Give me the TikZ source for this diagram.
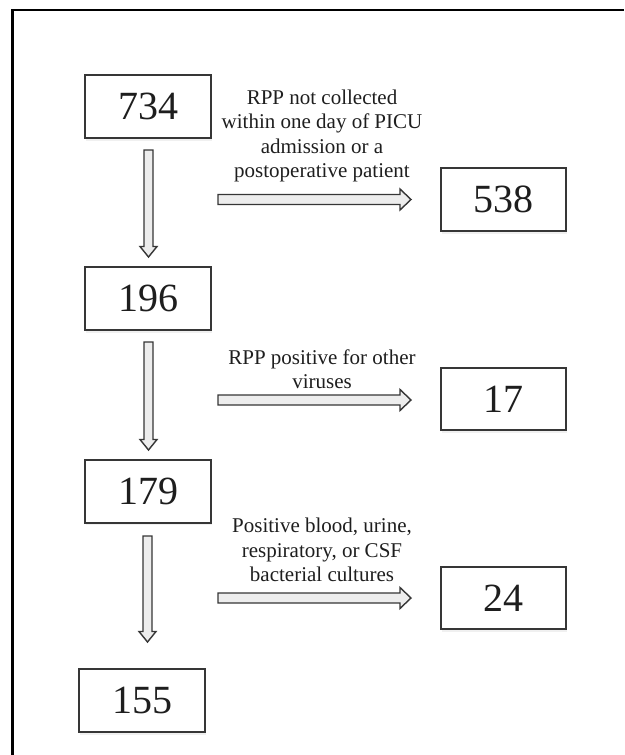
\documentclass[tikz,border=0pt]{standalone}
\usepackage{fontspec}
\setmainfont{Liberation Serif}
\usetikzlibrary{calc,shadows}
\definecolor{edge}{HTML}{363636}
\definecolor{afill}{HTML}{EDEDED}
\definecolor{ink}{HTML}{1E1E1E}
\tikzset{
  numbox/.style={draw=edge, line width=2pt, fill=white, minimum width=126pt, minimum height=63pt, inner sep=0pt,
    font=\fontsize{40}{44}\selectfont, text=ink,
    drop shadow={opacity=0.12, shadow xshift=1pt, shadow yshift=-2.5pt}},
  lbl/.style={align=center, font=\fontsize{21}{24.5}\selectfont, text=ink, inner sep=0pt},
  fat/.style={draw=edge, line width=1.4pt, fill=afill, line join=miter},
  frame/.style={line width=2.5pt, black}
}
\begin{document}
\begin{tikzpicture}[x=1pt,y=-1pt]
\useasboundingbox (0,0) rectangle (624,755);
% frame
\draw[frame] (12.5,755) -- (12.5,10) -- (624,10);
% boxes
\node[numbox] (b734) at (148,106.5) {734};
\node[numbox] (b196) at (148,298.5) {196};
\node[numbox] (b179) at (148,491) {179};
\node[numbox] (b155) at (142,700.5) {155};
\node[numbox, minimum width=125pt] (b538) at (503.5,199.5) {538};
\node[numbox, minimum width=125pt, minimum height=62pt] (b17) at (503.5,399) {17};
\node[numbox, minimum width=125pt, minimum height=62pt] (b24) at (503.5,598) {24};
% labels
\node[lbl] (t1) at (322,136) {RPP not collected\\within one day of PICU\\admission or a\\postoperative patient};
\node[lbl] (t2) at (322,369) {RPP positive for other\\viruses};
\node[lbl] (t3) at (322,550) {Positive blood, urine,\\respiratory, or CSF\\bacterial cultures};
% arrow coordinates
\coordinate (v1s) at (148.5,150);  \coordinate (v1e) at (148.5,257);
\coordinate (v2s) at (148.5,342);  \coordinate (v2e) at (148.5,450);
\coordinate (v3s) at (147.5,536);  \coordinate (v3e) at (147.5,642);
\coordinate (h1s) at (218,199.5);  \coordinate (h1e) at (411,199.5);
\coordinate (h2s) at (218,400);    \coordinate (h2e) at (411,400);
\coordinate (h3s) at (218,598);    \coordinate (h3e) at (411,598);
% vertical fat arrows
\foreach \s/\e in {v1s/v1e, v2s/v2e, v3s/v3e}{
  \draw[fat] ($(\s)+(-4.5,0)$) -- ($(\e)+(-4.5,-10.5)$) -- ++(-4,0) -- (\e) -- ($(\e)+(8.5,-10.5)$) -- ++(-4,0) -- ($(\s)+(4.5,0)$) -- cycle;
}
% horizontal fat arrows
\foreach \s/\e in {h1s/h1e, h2s/h2e, h3s/h3e}{
  \draw[fat] ($(\s)+(0,-5)$) -- ($(\e)+(-11,-5)$) -- ++(0,-5.5) -- (\e) -- ($(\e)+(-11,10.5)$) -- ++(0,-5.5) -- ($(\s)+(0,5)$) -- cycle;
}
\end{tikzpicture}
\end{document}
